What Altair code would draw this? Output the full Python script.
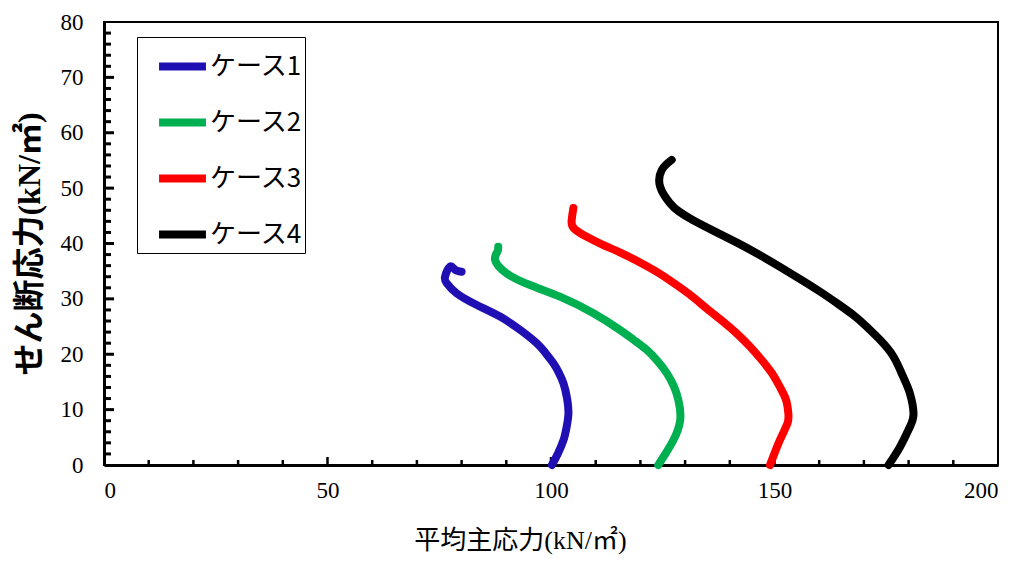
import altair as alt
import pandas as pd

# Stress paths (mean principal stress p, shear stress q) for each case
case_names = ["ケース1", "ケース2", "ケース3", "ケース4"]
case_colors = ["#2010B4", "#00B050", "#FF0000", "#000000"]

p1 = [100.2, 101.5, 102.8, 103.5, 103.9, 103.6, 102.8, 101.8, 100.5, 98.8, 96.8, 93.1, 88.6, 83.4, 78.9, 76.7, 76.3, 77.4, 78.5, 80.0]
q1 = [0.0, 2.0, 4.5, 6.9, 9.3, 12.0, 14.7, 16.6, 18.4, 20.2, 22.0, 24.4, 26.8, 28.9, 31.0, 32.8, 34.0, 35.8, 35.3, 34.9]

p2 = [124.0, 125.8, 127.4, 128.9, 128.5, 127.5, 125.9, 123.8, 121.4, 118.5, 115.4, 109.5, 102.0, 95.3, 90.1, 87.5, 88.0, 88.2]
q2 = [0.0, 2.3, 4.5, 8.1, 11.7, 14.2, 16.6, 18.8, 20.8, 22.6, 24.4, 27.4, 30.4, 32.5, 34.6, 37.0, 38.5, 39.4]

p3 = [149.0, 151.2, 152.9, 153.1, 152.6, 151.2, 149.4, 147.1, 144.5, 141.5, 138.5, 134.8, 131.0, 127.2, 123.4, 119.4, 115.4, 111.5, 108.0, 105.3, 104.6, 105.0]
q3 = [0.0, 4.5, 7.5, 9.3, 11.7, 14.1, 16.6, 19.0, 21.4, 23.8, 25.9, 28.3, 30.8, 33.0, 35.0, 36.8, 38.4, 39.8, 41.2, 42.6, 43.9, 46.4]

p4 = [175.5, 178.1, 180.3, 181.1, 180.3, 178.8, 176.6, 173.6, 170.6, 167.6, 164.2, 160.4, 156.1, 151.4, 146.5, 141.5, 136.6, 131.8, 128.6, 126.6, 124.4, 124.8, 127.0]
q4 = [0.0, 3.3, 6.9, 9.3, 12.9, 15.9, 19.6, 22.6, 25.0, 27.1, 29.1, 31.2, 33.4, 35.7, 38.0, 40.2, 42.2, 44.2, 45.8, 47.3, 50.3, 53.3, 55.1]

x_labels = [0, 50, 100, 150, 200]
y_labels = [0, 10, 20, 30, 40, 50, 60, 70, 80]
x_minor = [v for v in range(10, 200, 10) if v % 50]
x_major = [50, 100, 150]
y_minor = [v for v in range(2, 80, 2) if v % 10]
y_major = [10, 20, 30, 40, 50, 60, 70]

rows = []
for name, ps, qs in zip(case_names, [p1, p2, p3, p4], [q1, q2, q3, q4]):
    for i, (p, q) in enumerate(zip(ps, qs)):
        rows.append({"case": name, "i": i, "x": p, "y": q})
df = pd.DataFrame(rows)

W, H = 894, 443
SERIF = "Liberation Serif"
TITLE_FONT = "Liberation Serif, Noto Sans CJK JP"

x_scale = alt.Scale(domain=[0, 200], nice=False, zero=True)
y_scale = alt.Scale(domain=[0, 80], nice=False, zero=True)

x_axis = alt.Axis(
    values=x_labels, ticks=False, tickSize=0, grid=False,
    labelFont=SERIF, labelFontSize=23, labelColor="#000000", labelPadding=14,
    domainColor="#000000", domainWidth=3,
    title="平均主応力(kN/㎡)", titleFont=TITLE_FONT, titleFontSize=26,
    titleFontWeight="normal", titleColor="#000000", titlePadding=25,
    titleX=416, titleAnchor="start", titleAlign="center",
)
y_axis = alt.Axis(
    values=y_labels, ticks=False, tickSize=0, grid=False,
    labelFont=SERIF, labelFontSize=23, labelColor="#000000", labelPadding=21,
    domainColor="#000000", domainWidth=3,
    title="せん断応力(kN/㎡)", titleFont=TITLE_FONT, titleFontSize=32,
    titleFontWeight="bold", titleColor="#000000", titlePadding=14,
)


def xenc():
    return alt.X("x:Q", scale=x_scale, axis=x_axis)


def yenc():
    return alt.Y("y:Q", scale=y_scale, axis=y_axis)


lines = alt.Chart(df).mark_line(
    strokeWidth=8, strokeCap="round", strokeJoin="round", interpolate="natural"
).encode(
    x=xenc(),
    y=yenc(),
    order=alt.Order("i:Q"),
    color=alt.Color(
        "case:N",
        scale=alt.Scale(domain=case_names, range=case_colors),
        legend=alt.Legend(
            title=None, orient="none", legendX=33, legendY=15,
            symbolType="stroke", symbolStrokeWidth=8, symbolSize=2200,
            symbolOffset=16,
            labelFont="Noto Sans CJK JP", labelFontSize=26,
            labelColor="#000000", labelOffset=0, rowPadding=12, padding=2,
            strokeColor="#000000", fillColor="#FFFFFF",
        ),
    ),
)

# inward tick marks along the bottom edge
xt_minor = alt.Chart(pd.DataFrame({"x": x_minor})).mark_rule(
    color="#000000", strokeWidth=2.5
).encode(x=xenc(), y=alt.value(H), y2=alt.value(H - 5))
xt_major = alt.Chart(pd.DataFrame({"x": x_major})).mark_rule(
    color="#000000", strokeWidth=2.5
).encode(x=xenc(), y=alt.value(H), y2=alt.value(H - 8))

# inward tick marks along the left edge
yt_minor = alt.Chart(pd.DataFrame({"y": y_minor})).mark_rule(
    color="#000000", strokeWidth=3
).encode(y=yenc(), x=alt.value(0), x2=alt.value(7))
yt_major = alt.Chart(pd.DataFrame({"y": y_major})).mark_rule(
    color="#000000", strokeWidth=3
).encode(y=yenc(), x=alt.value(0), x2=alt.value(10))

chart = alt.layer(xt_minor, xt_major, yt_minor, yt_major, lines).properties(
    width=W, height=H,
    autosize=alt.AutoSizeParams(type="none"),
    padding={"left": 104, "top": 22, "right": 26, "bottom": 98},
    background="#FFFFFF",
).configure_view(
    stroke="#000000", strokeWidth=2
)

chart.save("out.html", embed_options={"renderer": "svg", "actions": False})
